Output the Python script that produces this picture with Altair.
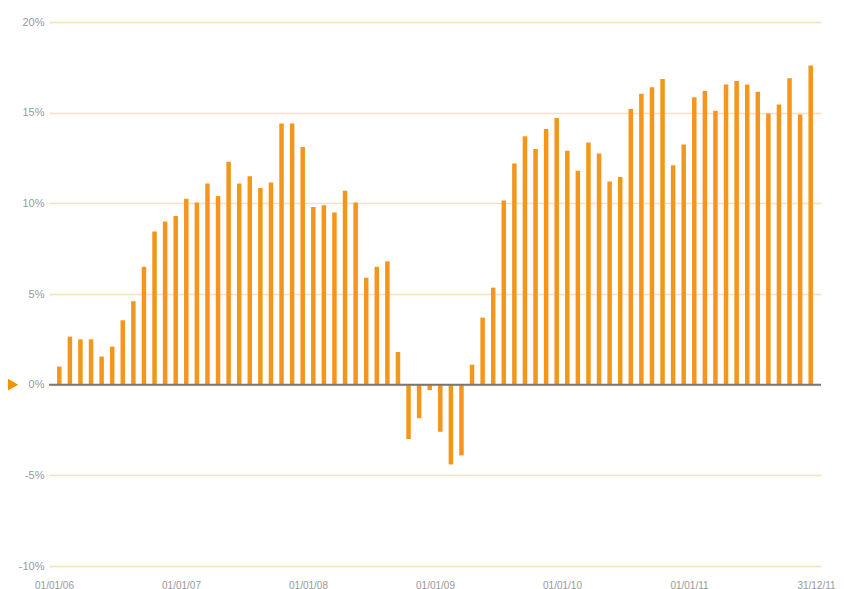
import altair as alt
import pandas as pd

# Monthly values (%), Jan 2006 .. Dec 2011
values = [1.0, 2.65, 2.5, 2.5, 1.55, 2.1, 3.55, 4.6, 6.5, 8.45, 9.0, 9.3,
          10.25, 10.05, 11.1, 10.4, 12.3, 11.1, 11.5, 10.85, 11.15, 14.4, 14.4, 13.1,
          9.8, 9.9, 9.5, 10.7, 10.05, 5.9, 6.5, 6.8, 1.8, -3.0, -1.85, -0.3,
          -2.6, -4.4, -3.9, 1.1, 3.7, 5.35, 10.15, 12.2, 13.7, 13.0, 14.1, 14.7,
          12.9, 11.8, 13.35, 12.75, 11.2, 11.45, 15.2, 16.05, 16.4, 16.85, 12.1, 13.25,
          15.85, 16.2, 15.1, 16.55, 16.75, 16.55, 16.15, 14.95, 15.45, 16.9, 14.9, 17.6]
months = pd.date_range("2006-01-01", periods=72, freq="MS").strftime("%Y-%m").tolist()
x_labels = ["01/01/06", "01/01/07", "01/01/08", "01/01/09", "01/01/10", "01/01/11", "31/12/11"]
y_ticks = [-10, -5, 0, 5, 10, 15, 20]

df = pd.DataFrame({"month": months, "pos": [i + 0.5 for i in range(len(months))], "value": values})
zero = pd.DataFrame({"y": [0]})

label_expr = "[" + ",".join("'%s'" % s for s in x_labels) + "][round(datum.value/12)]"

x_enc = alt.X("pos:Q",
              scale=alt.Scale(domain=[0, 72], nice=False, zero=False),
              axis=alt.Axis(values=[0, 12, 24, 36, 48, 60, 72], labelExpr=label_expr,
                            grid=False, ticks=False, domain=False, title=None,
                            labelColor="#999999", labelFontSize=10, labelFont="Liberation Sans",
                            labelPadding=14, labelFlush=False, labelOverlap=False))
y_enc = alt.Y("value:Q",
              scale=alt.Scale(domain=[-10, 20], nice=False),
              axis=alt.Axis(values=y_ticks, labelExpr="datum.value + '%'",
                            grid=True, gridColor="#fddfc0", gridWidth=1.3,
                            ticks=False, domain=False, title=None,
                            labelColor="#999999", labelFontSize=11, labelFont="Liberation Sans",
                            labelPadding=5))

bars = alt.Chart(df).mark_bar(size=4.5, color="#f5961c").encode(x=x_enc, y=y_enc)

zero_rule = alt.Chart(zero).mark_rule(color="#777777", strokeWidth=2).encode(y=alt.Y("y:Q"))

marker = alt.Chart(zero).mark_point(shape="triangle-right", filled=True, size=200,
                                    color="#f39200", opacity=1).encode(
    y=alt.Y("y:Q"), x=alt.value(-37))

chart = alt.layer(bars, zero_rule, marker).properties(
    width=772, height=544,
    autosize=alt.AutoSizeParams(type="none"),
    padding={"left": 41, "top": 14, "right": 17, "bottom": 26},
).configure_view(stroke=None)

chart.save("out.html", embed_options={"renderer": "svg", "actions": False})
